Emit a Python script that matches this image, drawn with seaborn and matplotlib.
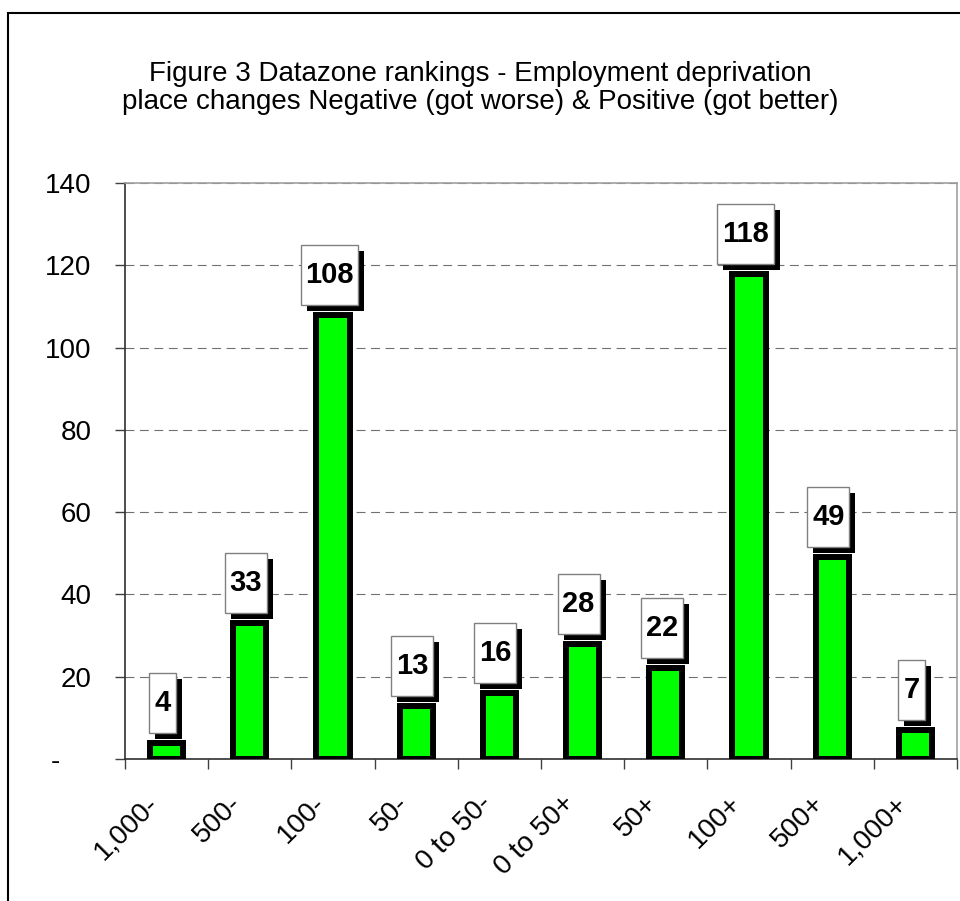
import matplotlib
matplotlib.use("Agg")
import matplotlib.pyplot as plt
from matplotlib import transforms
from matplotlib.patches import Rectangle
import seaborn as sns
import pandas as pd

# data
categories = ["1,000-", "500-", "100-", "50-", "0 to 50-", "0 to 50+", "50+", "100+", "500+", "1,000+"]
counts = [4, 33, 108, 13, 16, 28, 22, 118, 49, 7]
y_ticks = [0, 20, 40, 60, 80, 100, 120, 140]
y_tick_labels = ["-    ", "20", "40", "60", "80", "100", "120", "140"]
title = ("Figure 3 Datazone rankings - Employment deprivation\n"
         "place changes Negative (got worse) & Positive (got better)")

sns.set_style("white")
plt.rcParams['font.family'] = ['Liberation Sans', 'DejaVu Sans']
plt.rcParams['text.color'] = 'black'
plt.rcParams['xtick.labelcolor'] = 'black'
plt.rcParams['ytick.labelcolor'] = 'black'

W, H = 960, 901
fig = plt.figure(figsize=(W / 100, H / 100), dpi=100)
ax = fig.add_axes([125 / W, 1 - 759 / H, 832 / W, 576 / H])

df = pd.DataFrame({"band": categories, "n": counts})
sns.barplot(data=df, x="band", y="n", ax=ax, color="#00FF00", saturation=1,
            width=0.4, edgecolor="black", linewidth=4.3, zorder=3)

ax.set_xlim(-0.5, len(categories) - 0.5)
ax.set_ylim(0, 140)
ax.set_xlabel("")
ax.set_ylabel("")

# y axis
ax.set_yticks(y_ticks)
ax.set_yticklabels(y_tick_labels, fontsize=20)
ax.tick_params(axis="y", left=True, length=7.2, width=1, pad=17, color="#404040")

# x axis: labels at bar centres, tick marks between categories
ax.set_xticks(range(len(categories)))
ax.set_xticklabels(categories, fontsize=20, rotation=45, ha="right", va="center",
                   rotation_mode="anchor")
ax.set_xticks([i - 0.5 for i in range(len(categories) + 1)], minor=True)
ax.tick_params(axis="x", which="major", bottom=True, length=0, pad=29)
ax.tick_params(axis="x", which="minor", bottom=True, length=7.2, width=1, color="#404040")
shift = transforms.ScaledTranslation(-12 / 100, 0, fig.dpi_scale_trans)
for lab in ax.get_xticklabels():
    lab.set_transform(lab.get_transform() + shift)

# grid
ax.yaxis.grid(True, color="#707070", linestyle=(0, (8, 5)), linewidth=0.8)
ax.set_axisbelow(True)

for side in ["left", "bottom"]:
    ax.spines[side].set_color("#303030")
    ax.spines[side].set_linewidth(1.2)
for side in ["top", "right"]:
    ax.spines[side].set_color("#A0A0A0")
    ax.spines[side].set_linewidth(1.2)

# value labels: white box with black drop shadow above each bar
for i, v in enumerate(counts):
    s = str(v)
    w = 12 + 15 * len(s)
    h = 60
    tr = transforms.Affine2D() + transforms.ScaledTranslation(i, v, ax.transData)
    x0 = -w / 2 - 4
    y0 = 10
    ax.add_patch(Rectangle((x0 + 6, y0 - 6), w, h, transform=tr, fc="black",
                           ec="none", zorder=4, clip_on=False))
    ax.add_patch(Rectangle((x0, y0), w, h, transform=tr, fc="white",
                           ec="#808080", lw=1, zorder=5, clip_on=False))
    ax.text(x0 + w / 2, y0 + h / 2, s, transform=tr, ha="center", va="center",
            fontsize=21, fontweight="bold", zorder=6)

# title
fig.text(0.5, 1 - 88 / H, title, ha="center", va="center", fontsize=20,
         linespacing=1.1)

# outer chart frame
fig.add_artist(Rectangle((8 / W, -0.05), 1.2, 1 - 13 / H + 0.05,
                         transform=fig.transFigure, fill=False, ec="black", lw=1.5))

fig.savefig("out.png", dpi=100)
